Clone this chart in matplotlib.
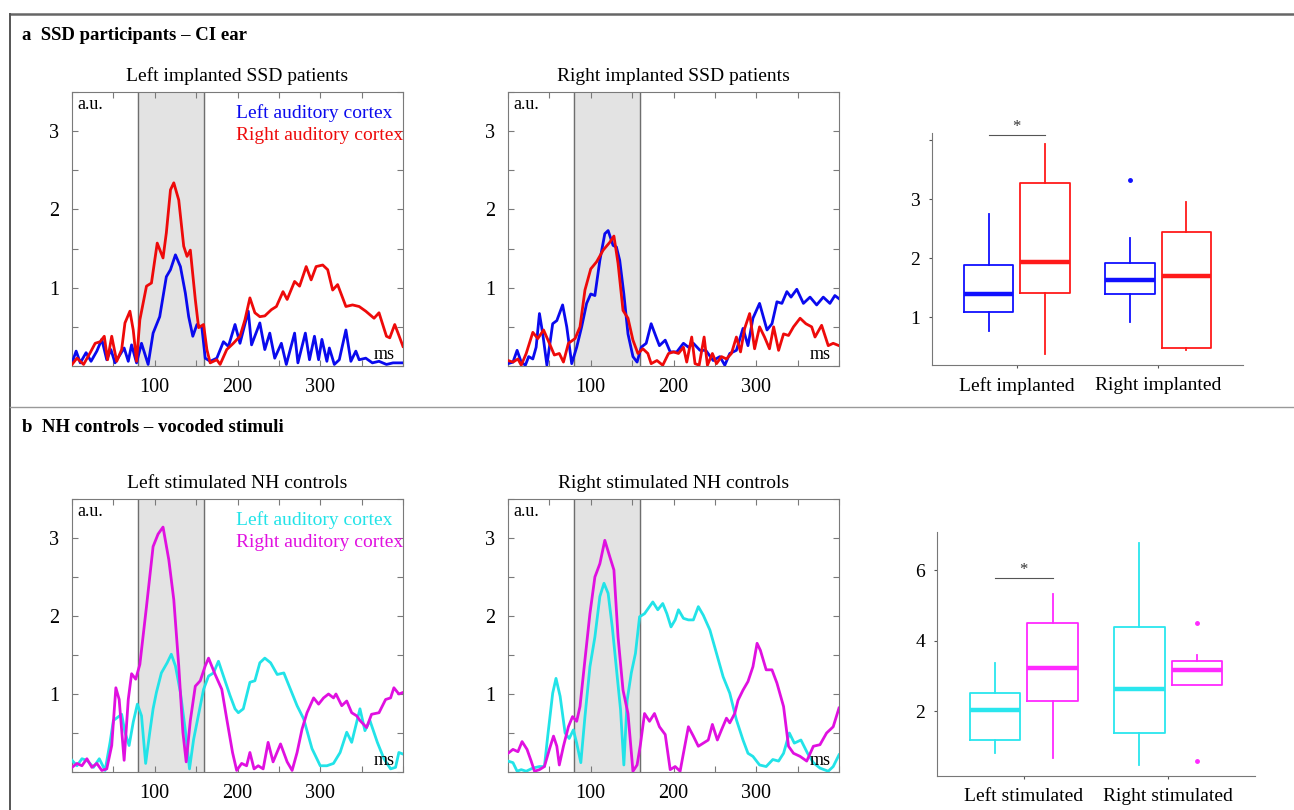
import matplotlib
matplotlib.use('Agg')
import matplotlib.pyplot as plt
from matplotlib.lines import Line2D

plt.rcParams['font.family'] = ['Liberation Serif', 'DejaVu Serif']

# ---- time courses (ms, a.u.) ----
# a, left implanted SSD patients
la_blue_t = [0, 5, 10, 17, 23, 30, 36, 42, 47, 52, 63, 68, 72, 78, 84, 92, 98, 106, 114, 119, 125, 131, 137, 141,
             146, 151, 157, 161, 167, 175, 183, 189, 197, 203, 213, 217, 227, 233, 239, 245, 253, 259, 269, 273,
             282, 287, 293, 298, 302, 308, 311, 317, 323, 331, 337, 343, 347, 355, 363, 371, 380, 388, 400]
la_blue_v = [0.04, 0.19, 0.04, 0.17, 0.06, 0.19, 0.34, 0.08, 0.21, 0.04, 0.23, 0.06, 0.27, 0.04, 0.29, 0.02, 0.42,
             0.63, 1.14, 1.23, 1.42, 1.27, 0.93, 0.63, 0.38, 0.53, 0.49, 0.10, 0.06, 0.10, 0.31, 0.25, 0.53, 0.29,
             0.70, 0.27, 0.55, 0.21, 0.42, 0.10, 0.29, 0.02, 0.42, 0.04, 0.42, 0.08, 0.38, 0.08, 0.34, 0.06, 0.23,
             0.02, 0.08, 0.46, 0.06, 0.19, 0.08, 0.10, 0.04, 0.06, 0.02, 0.04, 0.04]
la_red_t = [0, 6, 14, 22, 28, 34, 39, 43, 48, 54, 60, 64, 70, 74, 78, 82, 90, 96, 103, 110, 114, 119, 123, 129,
            135, 139, 143, 149, 153, 159, 163, 167, 175, 179, 187, 195, 203, 209, 215, 221, 227, 233, 241, 247,
            255, 260, 269, 275, 283, 289, 295, 303, 309, 315, 321, 331, 339, 347, 355, 365, 371, 380, 384, 390,
            394, 400]
la_red_v = [0.02, 0.10, 0.02, 0.17, 0.29, 0.31, 0.38, 0.08, 0.38, 0.06, 0.21, 0.55, 0.70, 0.46, 0.06, 0.59, 1.02,
            1.06, 1.57, 1.38, 1.70, 2.25, 2.34, 2.12, 1.53, 1.40, 1.48, 0.85, 0.49, 0.53, 0.21, 0.04, 0.08, 0.02,
            0.21, 0.29, 0.38, 0.59, 0.87, 0.68, 0.63, 0.64, 0.72, 0.76, 0.95, 0.85, 1.08, 1.02, 1.27, 1.10, 1.27,
            1.29, 1.23, 0.97, 1.04, 0.76, 0.78, 0.76, 0.70, 0.61, 0.68, 0.38, 0.36, 0.53, 0.42, 0.25]

# a, right implanted SSD patients
ra_blue_t = [0, 6, 11, 16, 21, 25, 30, 34, 38, 42, 47, 54, 59, 66, 71, 77, 83, 89, 95, 100, 105, 111, 117, 121,
             127, 131, 135, 140, 145, 151, 156, 161, 167, 173, 179, 183, 190, 196, 204, 212, 218, 224, 232, 239,
             248, 256, 262, 268, 276, 284, 290, 296, 304, 313, 319, 325, 331, 337, 342, 349, 357, 365, 373, 381,
             389, 395, 400]
ra_blue_v = [0.03, 0.05, 0.20, 0.05, 0.01, 0.12, 0.09, 0.24, 0.67, 0.41, 0.01, 0.54, 0.58, 0.78, 0.50, 0.03, 0.24,
             0.50, 0.80, 0.92, 0.90, 1.35, 1.69, 1.73, 1.54, 1.52, 1.35, 0.92, 0.41, 0.12, 0.05, 0.24, 0.29, 0.54,
             0.37, 0.26, 0.33, 0.18, 0.18, 0.29, 0.24, 0.29, 0.20, 0.20, 0.07, 0.12, 0.01, 0.16, 0.20, 0.48, 0.26,
             0.61, 0.80, 0.46, 0.54, 0.82, 0.80, 0.95, 0.88, 0.98, 0.80, 0.88, 0.78, 0.88, 0.80, 0.90, 0.86]
ra_red_t = [0, 6, 12, 16, 22, 30, 36, 43, 50, 56, 62, 67, 73, 81, 87, 93, 100, 107, 115, 123, 128, 133, 139, 145,
            151, 157, 163, 169, 173, 180, 187, 194, 200, 206, 212, 216, 222, 226, 231, 237, 241, 247, 252, 258,
            264, 270, 276, 281, 286, 292, 298, 304, 310, 316, 321, 327, 333, 339, 345, 353, 360, 367, 371, 379,
            387, 393, 400]
ra_red_v = [0.07, 0.05, 0.09, 0.01, 0.16, 0.43, 0.35, 0.46, 0.29, 0.14, 0.16, 0.05, 0.29, 0.35, 0.50, 0.97, 1.24,
            1.33, 1.48, 1.58, 1.66, 1.31, 0.71, 0.61, 0.33, 0.16, 0.22, 0.16, 0.03, 0.07, 0.01, 0.16, 0.18, 0.16,
            0.24, 0.05, 0.37, 0.03, 0.01, 0.37, 0.01, 0.16, 0.03, 0.12, 0.09, 0.16, 0.37, 0.18, 0.48, 0.67, 0.22,
            0.50, 0.37, 0.22, 0.50, 0.20, 0.41, 0.39, 0.50, 0.61, 0.54, 0.50, 0.37, 0.52, 0.26, 0.29, 0.26]

# b, left stimulated NH controls
lb_mag_t = [0, 6, 12, 18, 24, 30, 36, 42, 48, 53, 57, 63, 68, 72, 77, 82, 90, 98, 104, 110, 117, 123, 129, 134,
            138, 143, 149, 155, 161, 165, 173, 181, 187, 194, 199, 205, 211, 215, 220, 225, 231, 237, 243, 252,
            260, 266, 272, 278, 284, 292, 298, 304, 310, 316, 319, 326, 332, 338, 344, 348, 356, 362, 371, 379,
            385, 389, 395, 400]
lb_mag_v = [0.06, 0.11, 0.08, 0.17, 0.06, 0.11, 0.02, 0.04, 0.34, 1.08, 0.93, 0.15, 0.93, 1.26, 1.19, 1.38, 2.12,
            2.89, 3.05, 3.14, 2.72, 2.21, 1.36, 0.51, 0.13, 0.66, 1.10, 1.17, 1.36, 1.46, 1.25, 1.06, 0.68, 0.25,
            0.02, 0.11, 0.08, 0.25, 0.04, 0.08, 0.04, 0.38, 0.13, 0.36, 0.13, 0.02, 0.25, 0.55, 0.76, 0.95, 0.87,
            0.95, 1.00, 0.95, 1.00, 0.85, 0.91, 0.76, 0.72, 0.66, 0.57, 0.74, 0.76, 0.93, 0.95, 1.08, 1.00, 1.02]
lb_cyan_t = [0, 6, 12, 18, 26, 33, 40, 46, 50, 55, 60, 64, 69, 74, 79, 84, 89, 94, 98, 102, 108, 115, 120, 125,
             131, 137, 142, 147, 153, 159, 165, 171, 177, 183, 191, 197, 201, 207, 215, 221, 227, 233, 240, 248,
             256, 264, 272, 280, 290, 300, 308, 316, 324, 332, 338, 348, 354, 360, 369, 377, 385, 391, 395, 400]
lb_cyan_v = [0.15, 0.08, 0.17, 0.15, 0.06, 0.17, 0.02, 0.38, 0.66, 0.70, 0.74, 0.51, 0.34, 0.64, 0.87, 0.72, 0.11,
             0.51, 0.81, 1.02, 1.27, 1.40, 1.51, 1.36, 1.02, 0.53, 0.04, 0.42, 0.74, 1.06, 1.23, 1.27, 1.42, 1.23,
             0.98, 0.81, 0.76, 0.81, 1.15, 1.17, 1.40, 1.46, 1.40, 1.25, 1.27, 1.06, 0.85, 0.68, 0.30, 0.08, 0.08,
             0.11, 0.25, 0.51, 0.38, 0.81, 0.53, 0.66, 0.38, 0.17, 0.04, 0.06, 0.25, 0.23]

# b, right stimulated NH controls
rb_mag_t = [0, 6, 12, 17, 23, 28, 32, 38, 44, 50, 55, 59, 62, 67, 73, 78, 83, 87, 93, 99, 105, 111, 117, 123,
            128, 133, 139, 145, 151, 156, 160, 165, 171, 177, 183, 190, 196, 202, 208, 212, 218, 224, 230, 236,
            242, 247, 253, 258, 264, 268, 274, 278, 284, 290, 296, 301, 305, 312, 319, 325, 333, 339, 345, 353,
            361, 369, 377, 385, 393, 400]
rb_mag_v = [0.24, 0.29, 0.26, 0.39, 0.29, 0.14, 0.01, 0.03, 0.07, 0.29, 0.46, 0.33, 0.09, 0.33, 0.58, 0.71, 0.65,
            0.84, 1.44, 2.03, 2.50, 2.67, 2.97, 2.76, 2.59, 1.73, 1.05, 0.75, 0.01, 0.09, 0.35, 0.75, 0.65, 0.75,
            0.58, 0.48, 0.03, 0.07, 0.01, 0.24, 0.58, 0.46, 0.33, 0.37, 0.41, 0.61, 0.41, 0.54, 0.69, 0.63, 0.75,
            0.92, 1.05, 1.16, 1.35, 1.65, 1.56, 1.31, 1.31, 1.14, 0.84, 0.33, 0.24, 0.20, 0.14, 0.33, 0.35, 0.50,
            0.58, 0.82]
rb_cyan_t = [0, 6, 11, 16, 22, 30, 38, 44, 48, 54, 58, 63, 69, 74, 79, 83, 88, 93, 99, 105, 111, 116, 121, 126,
             132, 136, 140, 144, 149, 154, 159, 165, 171, 175, 181, 187, 192, 197, 202, 206, 212, 218, 224, 230,
             236, 244, 252, 260, 268, 276, 284, 290, 296, 304, 312, 320, 327, 333, 340, 346, 354, 362, 369, 377,
             387, 393, 400]
rb_cyan_v = [0.14, 0.12, 0.01, 0.03, 0.01, 0.05, 0.07, 0.07, 0.46, 1.01, 1.20, 0.97, 0.50, 0.43, 0.54, 0.37, 0.12,
             0.71, 1.35, 1.73, 2.25, 2.42, 2.29, 1.86, 1.22, 0.80, 0.09, 0.92, 1.27, 1.52, 1.99, 2.03, 2.12, 2.18,
             2.08, 2.16, 2.03, 1.86, 1.95, 2.08, 1.97, 1.95, 1.95, 2.12, 2.01, 1.82, 1.52, 1.22, 1.01, 0.67, 0.41,
             0.24, 0.20, 0.09, 0.07, 0.16, 0.14, 0.24, 0.50, 0.37, 0.41, 0.24, 0.12, 0.05, 0.01, 0.07, 0.22]

# ---- boxplot summaries: whislo, q1, med, q3, whishi, outliers ----
# per group: [left auditory cortex, right auditory cortex]
box_a_groups = ['Left implanted', 'Right implanted']
box_a_left = [[0.76, 1.08, 1.39, 1.89, 2.75, []], [0.37, 1.41, 1.93, 3.28, 3.93, []]]
box_a_right = [[0.92, 1.40, 1.63, 1.91, 2.34, [3.32]], [0.44, 0.48, 1.70, 2.45, 2.95, []]]
box_b_groups = ['Left stimulated', 'Right stimulated']
box_b_left = [[0.81, 1.20, 2.03, 2.51, 3.38, []], [0.67, 2.29, 3.23, 4.51, 5.32, []]]
box_b_right = [[0.48, 1.40, 2.64, 4.38, 6.76, []], [2.74, 2.74, 3.17, 3.42, 3.60, [4.51, 0.59]]]

BLUE, RED = '#0a0aee', '#ee0a0a'
CYAN, MAG = '#22e3e8', '#e010e0'
SPINE = '#7a7a7a'

fig = plt.figure(figsize=(12.94, 8.10), dpi=100)
W, H = 1294.0, 810.0


def ax_px(x0, y0, x1, y1):
    return fig.add_axes([x0 / W, 1 - y1 / H, (x1 - x0) / W, (y1 - y0) / H])


def trace_panel(ax, title, series, legend=None):
    ax.axvspan(80, 160, color='#e3e3e3', zorder=0)
    ax.axvline(80, color='#6e6e6e', lw=1.0, zorder=1)
    ax.axvline(160, color='#6e6e6e', lw=1.0, zorder=1)
    for t, v, c in series:
        ax.plot(t, v, color=c, lw=2.0, zorder=3, solid_joinstyle='round')
    ax.set_xlim(0, 400)
    ax.set_ylim(0, 3.5)
    ax.set_xticks(range(0, 401, 50))
    ax.set_xticklabels(['', '', '100', '', '200', '', '300', '', ''])
    ax.set_yticks([0, 0.5, 1, 1.5, 2, 2.5, 3, 3.5])
    ax.set_yticklabels(['', '', '1', '', '2', '', '3', ''])
    ax.tick_params(direction='in', length=4, color=SPINE, top=True, right=True,
                   labelsize=14.5, pad=9)
    for s in ax.spines.values():
        s.set_color(SPINE)
    ax.set_title(title, fontsize=14, pad=8)
    ax.text(0.015, 0.985, 'a.u.', transform=ax.transAxes, ha='left', va='top', fontsize=13)
    ax.text(0.975, 0.012, 'ms', transform=ax.transAxes, ha='right', va='bottom', fontsize=13)
    if legend:
        for i, (lab, c) in enumerate(legend):
            ax.text(0.495, 0.923 - i * 0.083, lab, color=c, transform=ax.transAxes,
                    ha='left', va='center', fontsize=14)


def box_panel(ax, groups, left, right, cols, ylim, yticks, ylabels, sig_y):
    pos_all = []
    for g, pair in enumerate((left, right)):
        for k, d in enumerate(pair):
            st = dict(whislo=d[0], q1=d[1], med=d[2], q3=d[3], whishi=d[4], fliers=d[5])
            p = g + 1 + (-0.2 if k == 0 else 0.2)
            pos_all.append(p)
            c = cols[k]
            ax.bxp([st], positions=[p], widths=0.35, showcaps=False,
                   boxprops=dict(color=c, lw=1.3), whiskerprops=dict(color=c, lw=1.3),
                   medianprops=dict(color=c, lw=3.2),
                   flierprops=dict(marker='o', markersize=2.5, markerfacecolor=c, markeredgecolor=c))
    ax.plot([pos_all[0], pos_all[1]], [sig_y, sig_y], color='#555555', lw=0.8, clip_on=False)
    ax.text((pos_all[0] + pos_all[1]) / 2, sig_y, '*', ha='center', va='bottom', fontsize=12,
            color='#333333', clip_on=False)
    ax.set_xlim(0.4, 2.6)
    ax.set_ylim(*ylim)
    ax.set_xticks([1, 2])
    ax.set_xticklabels(groups, fontsize=14)
    ax.set_yticks(yticks)
    ax.set_yticklabels(ylabels, fontsize=14)
    ax.tick_params(direction='out', length=2.5, color='#555555', pad=6)
    for s in ('top', 'right'):
        ax.spines[s].set_visible(False)
    for s in ('left', 'bottom'):
        ax.spines[s].set_color('#777777')


# row a
ax1 = ax_px(72, 92, 403, 366)
trace_panel(ax1, 'Left implanted SSD patients',
            [(la_blue_t, la_blue_v, BLUE), (la_red_t, la_red_v, RED)],
            [('Left auditory cortex', BLUE), ('Right auditory cortex', RED)])
ax2 = ax_px(508, 92, 839, 366)
trace_panel(ax2, 'Right implanted SSD patients',
            [(ra_blue_t, ra_blue_v, BLUE), (ra_red_t, ra_red_v, RED)])
ax3 = ax_px(932, 133, 1243, 365)
box_panel(ax3, box_a_groups, box_a_left, box_a_right, ('#1010ff', '#ff1a1a'),
          (0.19, 4.12), [1, 2, 3, 4], ['1', '2', '3', ''], 4.08)

# row b
ax4 = ax_px(72, 499, 403, 772)
trace_panel(ax4, 'Left stimulated NH controls',
            [(lb_cyan_t, lb_cyan_v, CYAN), (lb_mag_t, lb_mag_v, MAG)],
            [('Left auditory cortex', CYAN), ('Right auditory cortex', MAG)])
ax5 = ax_px(508, 499, 839, 772)
trace_panel(ax5, 'Right stimulated NH controls',
            [(rb_cyan_t, rb_cyan_v, CYAN), (rb_mag_t, rb_mag_v, MAG)])
ax6 = ax_px(937, 532, 1255, 776)
box_panel(ax6, box_b_groups, box_b_left, box_b_right, ('#2ae6ee', '#ff2aff'),
          (0.17, 7.08), [2, 4, 6], ['2', '4', '6'], 5.77)

# frame and section headers
fig.add_artist(Line2D([10 / W, 1], [1 - 14 / H, 1 - 14 / H], color='#666666', lw=1.8,
                      transform=fig.transFigure))
fig.add_artist(Line2D([10 / W, 10 / W], [0, 1 - 14 / H], color='#555555', lw=1.4,
                      transform=fig.transFigure))
fig.add_artist(Line2D([10 / W, 1], [1 - 407 / H, 1 - 407 / H], color='#999999', lw=1.0,
                      transform=fig.transFigure))
fig.text(22 / W, 1 - 35 / H, 'a  SSD participants \u2013 CI ear', fontsize=13.5,
         fontweight='bold', va='center', ha='left')
fig.text(22 / W, 1 - 428 / H, 'b  NH controls \u2013 vocoded stimuli', fontsize=13.5,
         fontweight='bold', va='center', ha='left')

fig.savefig('out.png', dpi=100)
